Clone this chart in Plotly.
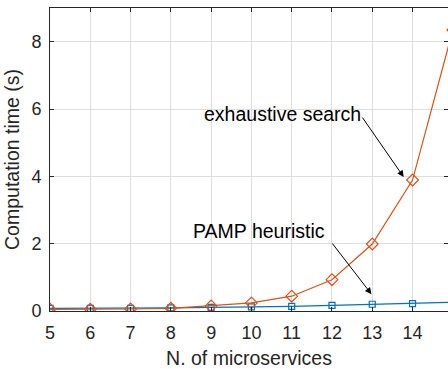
import plotly.graph_objects as go

# Number of microservices and measured computation times (seconds)
n_microservices = [5, 6, 7, 8, 9, 10, 11, 12, 13, 14, 15]
exhaustive_time = [0.05, 0.05, 0.06, 0.08, 0.15, 0.24, 0.44, 0.93, 1.99, 3.89, 8.35]
pamp_time = [0.08, 0.08, 0.08, 0.09, 0.11, 0.12, 0.14, 0.17, 0.20, 0.22, 0.26]

x_ticks = [5, 6, 7, 8, 9, 10, 11, 12, 13, 14]
y_ticks = [0, 2, 4, 6, 8]

AX = "#262626"
GRID = "#dedede"
FONT = "Liberation Sans"

fig = go.Figure()

fig.add_trace(go.Scatter(
    x=n_microservices, y=pamp_time, mode="lines+markers",
    line=dict(color="#0072BD", width=1.2),
    marker=dict(symbol="square-open", size=6, color="#0072BD", line=dict(width=1.2)),
    showlegend=False,
))
fig.add_trace(go.Scatter(
    x=n_microservices, y=exhaustive_time, mode="lines+markers",
    line=dict(color="#D95319", width=1.2),
    marker=dict(symbol="diamond-open", size=9, color="#D95319", line=dict(width=1.2)),
    showlegend=False,
))

# right-hand tick marks without a visible axis line
fig.add_trace(go.Scatter(x=[None], y=[None], yaxis="y2", showlegend=False))

fig.update_layout(
    width=448, height=369,
    margin=dict(l=50, r=0, t=8, b=58),
    paper_bgcolor="white", plot_bgcolor="white",
    font=dict(family=FONT, size=18, color=AX),
    xaxis=dict(
        range=[5, 14.88], tickvals=x_ticks,
        showline=True, linecolor=AX, linewidth=1, mirror="ticks",
        ticks="inside", ticklen=4, tickcolor=AX, tickwidth=1,
        showgrid=True, gridcolor=GRID, gridwidth=1, zeroline=False,
        ticklabelstandoff=5,
        title=dict(text="N. of microservices", font=dict(size=19.5, color=AX), standoff=12),
    ),
    yaxis=dict(
        range=[0, 9], tickvals=y_ticks,
        showline=True, linecolor=AX, linewidth=1,
        ticks="inside", ticklen=4, tickcolor=AX, tickwidth=1,
        showgrid=True, gridcolor=GRID, gridwidth=1, zeroline=False,
        ticklabelstandoff=4,
        title=dict(text="Computation time (s)", font=dict(size=19.5, color=AX), standoff=6),
    ),
    yaxis2=dict(
        overlaying="y", side="right", range=[0, 9], tickvals=y_ticks,
        showline=False, showgrid=False, zeroline=False, showticklabels=False,
        ticks="inside", ticklen=4, tickcolor=AX, tickwidth=1,
    ),
)

annotations = [
    dict(x=10.76, y=5.85, text="exhaustive search", showarrow=False),
    dict(x=10.19, y=2.38, text="PAMP heuristic", showarrow=False),
    dict(x=13.78, y=3.98, ax=12.73, ay=5.79, text="", showarrow=True,
         axref="x", ayref="y", arrowhead=2, arrowsize=1.3, arrowwidth=1, arrowcolor="black"),
    dict(x=12.98, y=0.50, ax=11.98, ay=2.05, text="", showarrow=True,
         axref="x", ayref="y", arrowhead=2, arrowsize=1.3, arrowwidth=1, arrowcolor="black"),
]
for a in annotations:
    a.setdefault("xref", "x")
    a.setdefault("yref", "y")
    a["font"] = dict(family=FONT, size=19.5, color="black")
    fig.add_annotation(**a)

fig.write_html("out.html")
